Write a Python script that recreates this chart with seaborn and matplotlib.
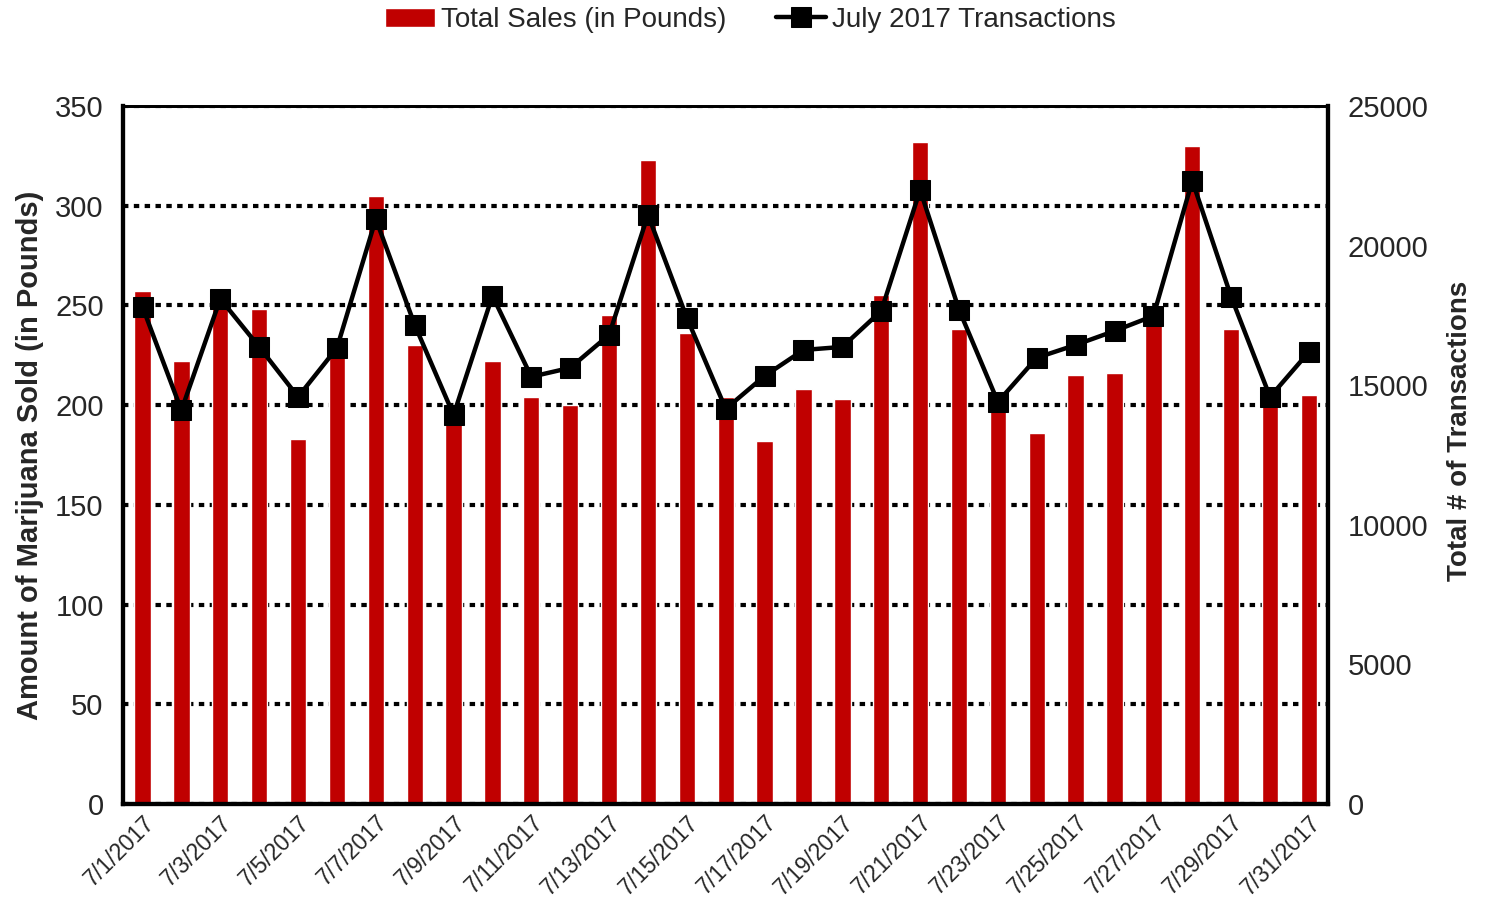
import matplotlib
matplotlib.use("Agg")
import matplotlib.pyplot as plt
import seaborn as sns
import numpy as np

days = [f"7/{d}/2017" for d in range(1, 32)]

sales_lbs = [257, 222, 252, 248, 183, 226, 305, 230, 197, 222,
             204, 200, 245, 323, 236, 204, 182, 208, 203, 255,
             332, 238, 200, 186, 215, 216, 243, 330, 238, 202, 205]

transactions = [17800, 14100, 18090, 16370, 14580, 16330, 20950, 17160, 13930, 18200,
                15300, 15620, 16800, 21100, 17410, 14150, 15330, 16260, 16370, 17660,
                21990, 17700, 14400, 15980, 16440, 16940, 17480, 22320, 18160, 14580, 16190]

sns.set_style("white")
plt.rcParams['font.family'] = ['Liberation Sans Narrow', 'Liberation Sans', 'DejaVu Sans']

fig = plt.figure(figsize=(15.01, 9.09), dpi=100)
ax = fig.add_axes([0.082, 0.1155, 0.803, 0.768])

idx = np.arange(len(days))
sns.barplot(x=idx, y=sales_lbs, color="#C00000", width=0.42, ax=ax,
            saturation=1, label="Total Sales (in Pounds)", zorder=2)

ax2 = ax.twinx()
sns.lineplot(x=idx, y=transactions, color="black", lw=3.2, marker="s",
             markersize=14, markeredgecolor="black", ax=ax2,
             label="July 2017 Transactions")

ax.set_xlim(-0.5, 30.5)
ax.set_ylim(0, 350)
ax2.set_ylim(0, 25000)
ax.set_yticks(range(0, 351, 50))
ax2.set_yticks(range(0, 25001, 5000))

# labels sit at the bar centres, tick marks at the day boundaries
ax.set_xticks(idx[::2])
ax.set_xticklabels(days[::2], rotation=45, ha="right", rotation_mode="anchor",
                   fontsize=16.5)
ax.set_xticks([i - 0.5 for i in range(0, 31, 2)], minor=True)
ax.tick_params(axis="x", which="major", length=0, pad=5)
ax.tick_params(axis="x", which="minor", direction="inout", length=12, width=2.5)
ax.tick_params(axis="y", length=0, labelsize=21, pad=14)
ax2.tick_params(axis="y", length=0, labelsize=21, pad=14)

ax.set_axisbelow(True)
ax.yaxis.grid(True, linestyle=(0, (1.3, 1.3)), color="black", lw=3)
ax.xaxis.grid(False)

for a in (ax, ax2):
    for s in ("left", "right", "bottom"):
        a.spines[s].set_linewidth(3)
        a.spines[s].set_color("black")
    a.spines["top"].set_linewidth(2)
    a.spines["top"].set_color("black")

ax.set_ylabel("Amount of Marijuana Sold (in Pounds)", fontsize=21,
              fontweight="bold", labelpad=8)
ax2.set_ylabel("Total # of Transactions", fontsize=20, fontweight="bold")
ax2.yaxis.set_label_coords(1.098, 0.535)

h1, l1 = ax.get_legend_handles_labels()
h2, l2 = ax2.get_legend_handles_labels()
if ax.get_legend():
    ax.get_legend().remove()
if ax2.get_legend():
    ax2.get_legend().remove()
fig.legend(h1 + h2, l1 + l2, loc="center", bbox_to_anchor=(0.5, 0.978),
           ncol=2, frameon=False, fontsize=20, handlelength=1.8,
           handletextpad=0.2, columnspacing=1.8)

fig.savefig("out.png", dpi=100)
